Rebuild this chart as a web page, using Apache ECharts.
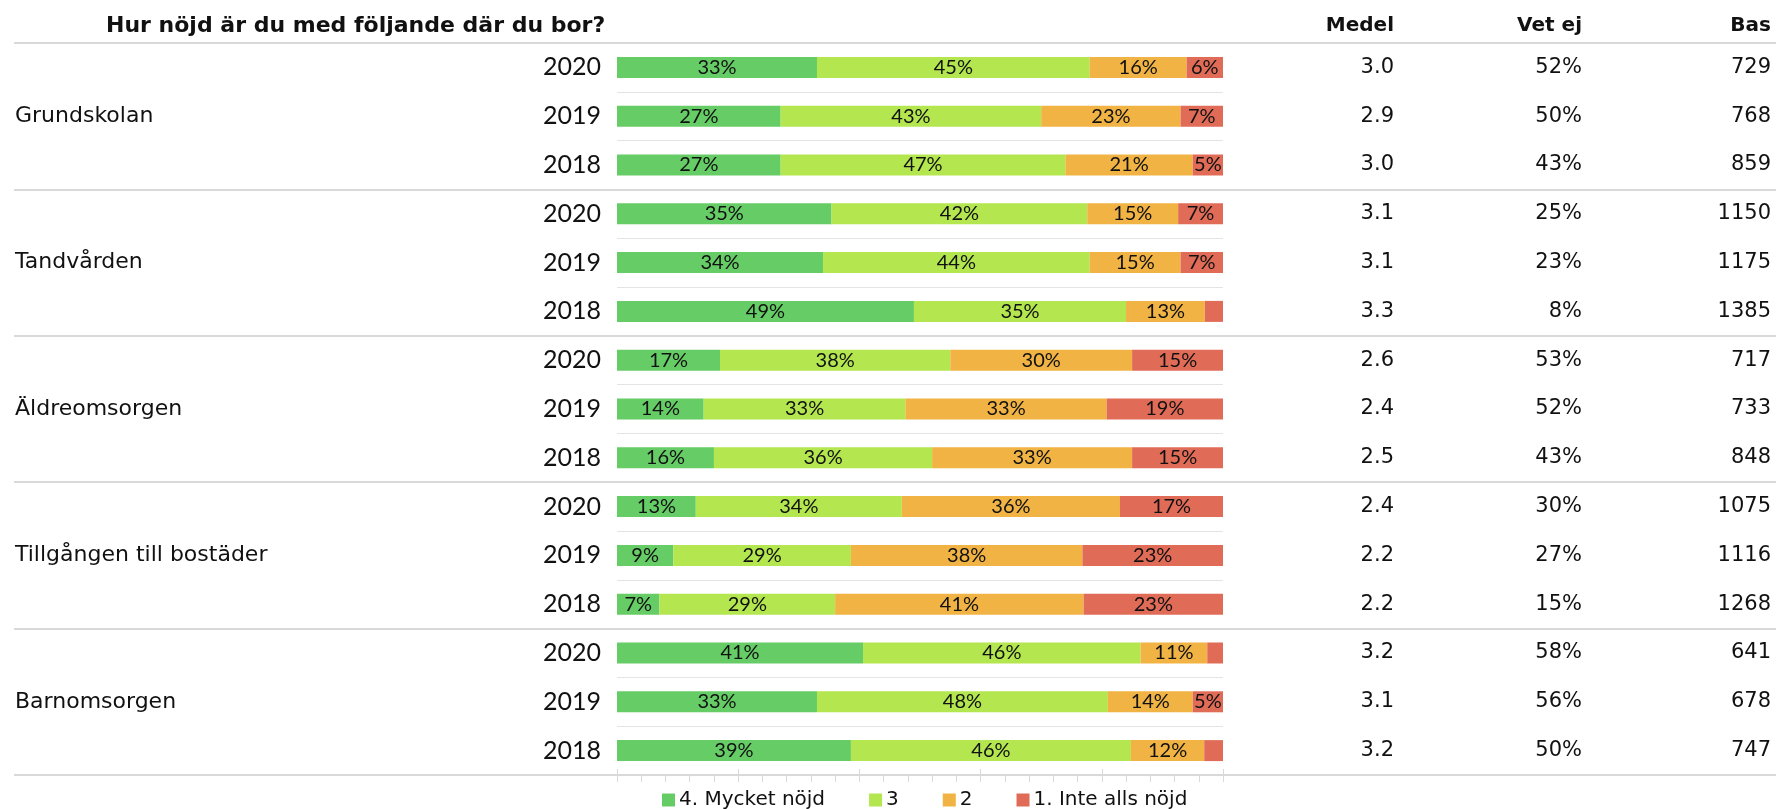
<!DOCTYPE html>
<html>
<head>
<meta charset="utf-8">
<script src="https://cdn.jsdelivr.net/npm/echarts@6/dist/echarts.min.js"></script>
<style>
  html, body { margin: 0; padding: 0; background: #fff; }
  #chart { width: 1776px; height: 809px; }
</style>
</head>
<body>
<div id="chart"></div>
<script>
// ---- data ----
const groups = ['Grundskolan', 'Tandvården', 'Äldreomsorgen', 'Tillgången till bostäder', 'Barnomsorgen'];
const years = ['2020', '2019', '2018'];
const seriesNames = ['4. Mycket nöjd', '3', '2', '1. Inte alls nöjd'];
const colors = ['#66CC66', '#B3E64F', '#F0B344', '#E06C58'];

const level4 = [33, 27, 27, 35.4, 34, 49, 17, 14.3, 16, 13, 9.3, 7, 40.6, 33, 38.6];
const level3 = [45, 43, 47, 42.2, 44, 35, 38, 33.3, 36, 34, 29.3, 29, 45.8, 48, 46.2];
const level2 = [16, 23, 21, 15.0, 15, 13, 30, 33.2, 33, 36, 38.2, 41, 11.0, 14, 12.1];
const level1 = [6, 7, 5, 7.4, 7, 3, 15, 19.2, 15, 17, 23.2, 23, 2.6, 5, 3.1];

const medel = [3.0, 2.9, 3.0, 3.1, 3.1, 3.3, 2.6, 2.4, 2.5, 2.4, 2.2, 2.2, 3.2, 3.1, 3.2];
const vetEj = [52, 50, 43, 25, 23, 8, 53, 52, 43, 30, 27, 15, 58, 56, 50];
const bas = [729, 768, 859, 1150, 1175, 1385, 717, 733, 848, 1075, 1116, 1268, 641, 678, 747];

const headerTitle = 'Hur nöjd är du med följande där du bor?';
const colHeaders = ['Medel', 'Vet ej', 'Bas'];

// ---- build ----
const rowIds = [];
const rowYears = [];
groups.forEach(g => years.forEach(y => { rowIds.push(g + ' ' + y); rowYears.push(y); }));
const levels = [level4, level3, level2, level1];

const GL = 617, GR = 1223, GT = 43, GB = 775, W = 1776, H = 809;
const textColor = '#111';
const sepColor = '#D9D9D9';

const chart = echarts.init(document.getElementById('chart'), null, { renderer: 'canvas' });

const labelAxisBase = {
  type: 'category', inverse: true, gridIndex: 0,
  axisLine: { show: false }, axisTick: { show: false }, splitLine: { show: false }
};

const option = {
  animation: false,
  backgroundColor: '#fff',
  title: [
    { text: headerTitle, left: 106, top: 14, padding: 0,
      textStyle: { fontFamily: 'DejaVu Sans', fontWeight: 'bold', fontSize: 22, lineHeight: 24, color: textColor } },
    { text: colHeaders[0], right: W - 1394, top: 14, padding: 0,
      textStyle: { fontFamily: 'DejaVu Sans', fontWeight: 'bold', fontSize: 20, lineHeight: 24, color: textColor } },
    { text: colHeaders[1], right: W - 1582, top: 14, padding: 0,
      textStyle: { fontFamily: 'DejaVu Sans', fontWeight: 'bold', fontSize: 20, lineHeight: 24, color: textColor } },
    { text: colHeaders[2], right: W - 1771, top: 14, padding: 0,
      textStyle: { fontFamily: 'DejaVu Sans', fontWeight: 'bold', fontSize: 20, lineHeight: 24, color: textColor } }
  ],
  legend: {
    data: seriesNames,
    left: 662, top: 790,
    itemWidth: 13, itemHeight: 13, itemGap: 44,
    icon: 'rect',
    padding: 0,
    textStyle: { fontFamily: 'DejaVu Sans', fontSize: 20, color: textColor, padding: [0, 0, 0, -1] }
  },
  grid: { left: GL, right: W - GR, top: GT, bottom: H - GB, containLabel: false },
  xAxis: {
    type: 'value', min: 0, max: 100, interval: 20,
    offset: 7,
    axisLine: { show: false },
    axisLabel: { show: false },
    axisTick: { show: true, inside: true, length: 13, lineStyle: { color: sepColor, width: 1 } },
    minorTick: { show: true, splitNumber: 5, length: 6, lineStyle: { color: sepColor, width: 1 } },
    splitLine: { show: false }
  },
  yAxis: [
    // rows (years)
    Object.assign({}, labelAxisBase, {
      position: 'left', data: rowIds,
      axisLabel: { interval: 0, margin: 16, formatter: (v, i) => rowYears[i],
        fontFamily: 'Lato', fontSize: 25, color: textColor },
      splitLine: { show: true, interval: 0, lineStyle: { color: '#E4E4E4', width: 1 } }
    }),
    // group labels on left + separators
    Object.assign({}, labelAxisBase, {
      position: 'left', data: groups,
      axisLabel: { interval: 0, align: 'left', margin: GL - 15,
        fontFamily: 'DejaVu Sans', fontSize: 22, color: textColor },
      axisTick: { show: true, interval: 0, length: GL - 14, lineStyle: { color: sepColor, width: 2 } },
      splitLine: { show: true, interval: 0, lineStyle: { color: sepColor, width: 2 } }
    }),
    // Medel
    Object.assign({}, labelAxisBase, {
      position: 'right', data: rowIds,
      axisLabel: { interval: 0, align: 'right', margin: 1394 - GR, formatter: (v, i) => medel[i].toFixed(1),
        fontFamily: 'DejaVu Sans', fontSize: 21, color: textColor }
    }),
    // Vet ej
    Object.assign({}, labelAxisBase, {
      position: 'right', data: rowIds,
      axisLabel: { interval: 0, align: 'right', margin: 1582 - GR, formatter: (v, i) => vetEj[i] + '%',
        fontFamily: 'DejaVu Sans', fontSize: 21, color: textColor }
    }),
    // Bas
    Object.assign({}, labelAxisBase, {
      position: 'right', data: rowIds,
      axisLabel: { interval: 0, align: 'right', margin: 1771 - GR, formatter: (v, i) => String(bas[i]),
        fontFamily: 'DejaVu Sans', fontSize: 21, color: textColor }
    }),
    // group separators on right
    Object.assign({}, labelAxisBase, {
      position: 'right', data: groups,
      axisLabel: { show: false },
      axisTick: { show: true, interval: 0, length: W - GR, lineStyle: { color: sepColor, width: 2 } }
    })
  ],
  series: levels.map((vals, k) => ({
    name: seriesNames[k],
    type: 'bar',
    stack: 'total',
    xAxisIndex: 0,
    yAxisIndex: 0,
    barWidth: 21,
    itemStyle: { color: colors[k] },
    label: {
      show: true, position: 'inside',
      formatter: p => (p.value >= 4 ? Math.round(p.value) + '%' : ''),
      fontFamily: 'Lato', fontSize: 20, color: textColor
    },
    data: vals
  }))
};

chart.setOption(option);
</script>
</body>
</html>
